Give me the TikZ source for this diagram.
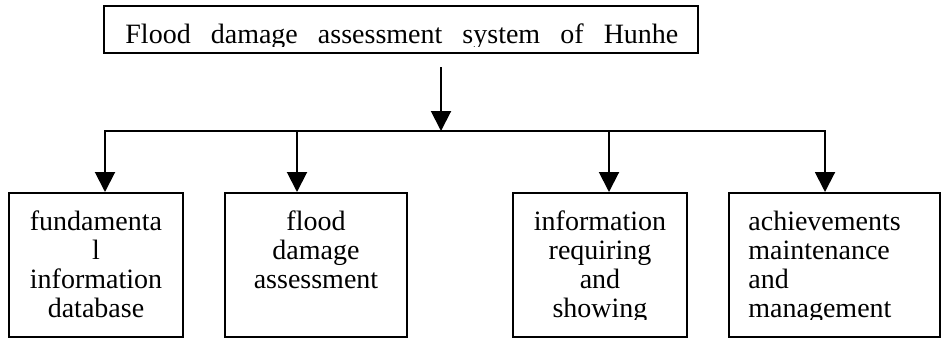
\documentclass[tikz,border=0pt]{standalone}
\usepackage{fontspec}
\setmainfont{Liberation Serif}
\usetikzlibrary{arrows.meta,calc,positioning}

\tikzset{
  unitbox/.style={draw, line width=1pt, inner sep=0pt, minimum height=72pt},
  boxtext/.style={inner sep=0pt, anchor=base, font=\fontsize{14}{14.5}\selectfont},
  feed/.style={line width=1pt, -{Triangle[length=10pt,width=10pt]}},
}

\begin{document}
\begin{tikzpicture}[x=0.5pt, y=0.5pt]
  \useasboundingbox (0,0) rectangle (941,339);

  % Title box
  \node[unitbox, minimum width=297pt, minimum height=23.5pt] (title) at (401,309.5) {};
  \begin{scope}
    \clip (title.north west) rectangle ($(title.south east)+(0,8)$);
    \node[boxtext, anchor=base west] (title-text) at (125,296)
      {\makebox[276.5pt][s]{Flood damage assessment system of Hunhe}};
  \end{scope}

  % Module boxes
  \node[unitbox, minimum width=87pt] (basic) at (96,74) {};
  \node[unitbox, minimum width=91pt] (assess) at (316,74) {};
  \node[unitbox, minimum width=87pt] (query) at (600,74) {};
  \node[unitbox, minimum width=105.5pt] (result) at (834.5,74) {};

  % Module texts (cut off at the bottom)
  \begin{scope}
    \clip (0,20) rectangle (941,146);
    \node[boxtext] (basic-text) at (96,109)
      {\parbox[t]{87pt}{\centering fundamenta\\l\\information\\database}};
    \node[boxtext] (assess-text) at (316,109)
      {\parbox[t]{91pt}{\centering flood\\damage\\assessment}};
    \node[boxtext] (query-text) at (600,109)
      {\parbox[t]{87pt}{\centering information\\requiring\\and\\showing}};
    \node[boxtext, anchor=base west] (result-text) at (748,109)
      {\parbox[t]{90pt}{\raggedright achievements\\maintenance\\and\\management}};
  \end{scope}

  % Connectors
  \coordinate (stem) at (441,272);
  \foreach \x/\m in {105/basic, 297/assess, 609/query, 825/result}
    \coordinate (tap-\m) at (\x,208);
  \draw[feed] (stem) -- (stem |- tap-basic);
  \draw[line width=1pt, line cap=rect] (tap-basic) -- (tap-result);
  \foreach \m in {basic, assess, query, result}
    \draw[feed] (tap-\m) -- (tap-\m |- \m.north);
\end{tikzpicture}
\end{document}
